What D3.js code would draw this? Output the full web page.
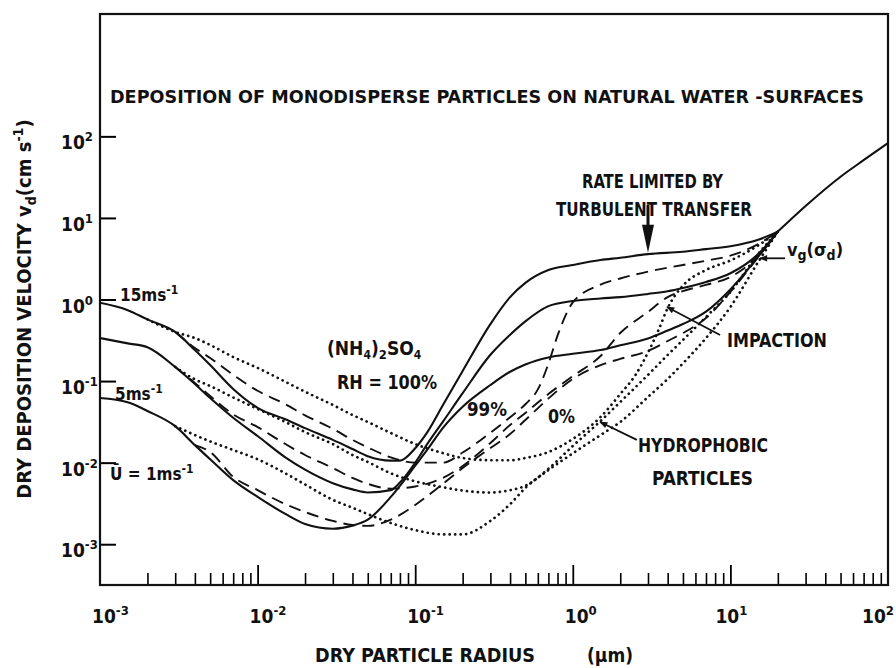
<!DOCTYPE html>
<html>
<head>
<meta charset="utf-8">
<script src="https://cdn.jsdelivr.net/npm/d3@7"></script>
<style>
  body { margin: 0; background: #fff; }
  svg { display: block; }
  text { font-family: "DejaVu Sans Condensed", "DejaVu Sans", sans-serif; font-stretch: condensed; font-weight: bold; fill: #111; }
  .curve { fill: none; stroke: #111; }
</style>
</head>
<body>
<svg width="896" height="668"></svg>
<script>
// dry particle radius (um) -> dry deposition velocity (cm/s)
// wind speeds 15, 5, 1 m/s ; RH 100% solid, 99% dashed, 0% (hydrophobic) dotted

var rh100_15 = [[0.001,0.91],[0.0015,0.74],[0.002,0.57],[0.003,0.40],[0.004,0.24],[0.005,0.157],[0.007,0.08],[0.01,0.047],[0.015,0.034],[0.02,0.0265],[0.03,0.019],[0.04,0.0147],[0.05,0.012],[0.07,0.0106],[0.08,0.0106],[0.1,0.015],[0.12,0.024],[0.15,0.051],[0.2,0.133],[0.3,0.50],[0.4,1.07],[0.5,1.6],[0.7,2.3],[1,2.65],[1.5,3.05],[2,3.25],[3,3.6],[5,3.85],[7,4.15],[10,4.5],[15,5.4],[20,6.8]];
var rh100_5 = [[0.001,0.337],[0.0015,0.29],[0.002,0.26],[0.003,0.149],[0.004,0.092],[0.005,0.062],[0.007,0.0355],[0.01,0.0212],[0.015,0.0116],[0.02,0.0082],[0.03,0.0056],[0.04,0.0047],[0.05,0.0043],[0.07,0.0046],[0.08,0.0057],[0.1,0.01],[0.12,0.0172],[0.15,0.0318],[0.2,0.071],[0.3,0.21],[0.4,0.37],[0.5,0.54],[0.7,0.83],[1,0.96],[1.5,1.03],[2,1.07],[3,1.17],[4,1.26],[5,1.38],[7,1.64],[10,2.1],[15,3.6],[20,6.8]];
var rh100_1 = [[0.001,0.062],[0.0015,0.055],[0.002,0.043],[0.003,0.028],[0.004,0.0164],[0.005,0.011],[0.007,0.0061],[0.01,0.0038],[0.015,0.00235],[0.02,0.00177],[0.03,0.00155],[0.04,0.00169],[0.05,0.002],[0.07,0.0038],[0.08,0.0052],[0.1,0.0092],[0.12,0.0146],[0.15,0.0267],[0.2,0.0485],[0.3,0.0895],[0.4,0.13],[0.5,0.16],[0.7,0.195],[1,0.216],[1.5,0.24],[2,0.275],[3,0.333],[4,0.416],[5,0.5],[7,0.71],[10,1.33],[15,3.33],[20,6.8]];

var rh99_15 = [[0.003,0.40],[0.004,0.255],[0.005,0.192],[0.007,0.119],[0.01,0.076],[0.015,0.052],[0.02,0.038],[0.03,0.026],[0.04,0.019],[0.05,0.0154],[0.07,0.0116],[0.1,0.010],[0.15,0.010],[0.2,0.0133],[0.3,0.0233],[0.4,0.036],[0.5,0.052],[0.6,0.079],[0.7,0.163],[0.8,0.36],[1,0.92],[1.5,1.52],[2,1.81],[3,2.2],[5,2.65],[7,2.99],[10,3.45],[15,4.78],[20,6.8]];
var rh99_5 = [[0.003,0.149],[0.004,0.095],[0.005,0.0658],[0.007,0.039],[0.01,0.0273],[0.015,0.0169],[0.02,0.0124],[0.03,0.0086],[0.04,0.0065],[0.05,0.0055],[0.07,0.0048],[0.1,0.0051],[0.15,0.0065],[0.2,0.0091],[0.3,0.0174],[0.4,0.0289],[0.5,0.0406],[0.7,0.0694],[1,0.115],[1.5,0.203],[2,0.388],[3,0.703],[4,1.07],[5,1.27],[7,1.51],[10,1.89],[15,3.41],[20,6.8]];
var rh99_1 = [[0.004,0.0164],[0.005,0.0135],[0.007,0.0067],[0.01,0.0046],[0.015,0.0031],[0.02,0.00248],[0.03,0.00193],[0.04,0.00172],[0.05,0.00168],[0.07,0.002],[0.1,0.00303],[0.15,0.0055],[0.2,0.0086],[0.3,0.0151],[0.4,0.0224],[0.5,0.0333],[0.7,0.0611],[1,0.106],[1.5,0.157],[2,0.187],[3,0.234],[4,0.31],[5,0.388],[7,0.593],[10,1.24],[15,3.32],[20,6.8]];

var rh0_15 = [[0.002,0.57],[0.003,0.40],[0.004,0.337],[0.005,0.277],[0.007,0.197],[0.01,0.145],[0.015,0.098],[0.02,0.074],[0.03,0.051],[0.04,0.0384],[0.05,0.0315],[0.07,0.0231],[0.1,0.0169],[0.15,0.0131],[0.2,0.0114],[0.3,0.0107],[0.4,0.0107],[0.5,0.0114],[0.7,0.0135],[1,0.0195],[1.5,0.0363],[2,0.0694],[2.5,0.119],[3,0.224],[3.5,0.423],[4,0.787],[5,1.48],[7,2.3],[10,3.01],[15,4.6],[20,6.8]];
var rh0_5 = [[0.003,0.149],[0.004,0.105],[0.005,0.087],[0.007,0.063],[0.01,0.0455],[0.015,0.0315],[0.02,0.0237],[0.03,0.0169],[0.04,0.0124],[0.05,0.0102],[0.07,0.0074],[0.1,0.0059],[0.15,0.005],[0.2,0.00455],[0.3,0.0043],[0.4,0.0046],[0.5,0.0052],[0.7,0.0084],[1,0.016],[1.5,0.0324],[2,0.0553],[3,0.119],[4,0.209],[5,0.319],[7,0.61],[10,1.24],[15,3.61],[20,6.8]];
var rh0_1 = [[0.003,0.028],[0.004,0.0218],[0.005,0.0182],[0.007,0.0143],[0.01,0.011],[0.015,0.0074],[0.02,0.0054],[0.03,0.0035],[0.04,0.0028],[0.05,0.00234],[0.07,0.00182],[0.1,0.00149],[0.15,0.00132],[0.2,0.00132],[0.3,0.00193],[0.4,0.0031],[0.5,0.0049],[0.7,0.0081],[1,0.013],[1.5,0.0218],[2,0.0315],[3,0.0638],[4,0.106],[5,0.165],[7,0.337],[10,0.81],[15,2.88],[20,6.8]];

// gravitational settling vg(sigma_d), where all curves merge
var settling = [[20,6.8],[30,14],[50,32],[70,51],[100,83]];

// axis decades (tick labels are 10^e)
var xExponents = [-3, -2, -1, 0, 1, 2];
var yExponents = [-3, -2, -1, 0, 1, 2];

var svg = d3.select("svg");

var x = d3.scaleLog().domain([1e-3, 1e2]).range([100, 888]);
var y = d3.scaleLog().domain([Math.pow(10, -3.5), Math.pow(10, 3.5)]).range([585, 14]);

// x ticks: short minor, longer at decades, all pointing inwards
var minorX = [];
xExponents.slice(0, -1).forEach(function(e) {
  for (var m = 2; m <= 9; m++) minorX.push(m * Math.pow(10, e));
});

svg.append("g")
  .attr("transform", "translate(0,585)")
  .call(d3.axisBottom(x).tickValues(minorX).tickSize(-12).tickFormat(""))
  .call(function(g) { g.select(".domain").remove(); })
  .selectAll("line").attr("stroke-width", 1.6);

svg.append("g")
  .attr("transform", "translate(0,585)")
  .call(d3.axisBottom(x).tickValues([1e-2, 1e-1, 1, 10]).tickSize(-20).tickFormat(""))
  .call(function(g) { g.select(".domain").remove(); })
  .selectAll("line").attr("stroke-width", 1.8);

svg.append("g")
  .attr("transform", "translate(100,0)")
  .call(d3.axisLeft(y).tickValues(yExponents.map(function(e) { return Math.pow(10, e); })).tickSize(-16).tickFormat(""))
  .call(function(g) { g.select(".domain").remove(); })
  .selectAll("line").attr("stroke-width", 2);

// frame
svg.append("rect")
  .attr("x", 100).attr("y", 14)
  .attr("width", 788).attr("height", 571)
  .attr("fill", "none")
  .attr("stroke", "#111")
  .attr("stroke-width", 2.2);

// text helper: parts = [string, baseline shift, size factor]
function addText(x0, y0, size, parts, len, anchor) {
  var t = svg.append("text")
    .attr("x", x0)
    .attr("y", y0)
    .style("font-size", size + "px");
  if (anchor) t.attr("text-anchor", anchor);
  var prev = 0;
  parts.forEach(function(p) {
    var shift = p[1] || 0;
    var s = t.append("tspan").text(p[0]).attr("dy", shift - prev);
    if (p[2]) s.style("font-size", Math.round(size * p[2]) + "px");
    prev = shift;
  });
  if (len) t.attr("textLength", len).attr("lengthAdjust", "spacingAndGlyphs");
  return t;
}

// tick labels
xExponents.forEach(function(e) {
  var px = Math.min(x(Math.pow(10, e)) - 8 - Math.max(0, e) * 7, 862);
  addText(px, 623, 19, [["10"], [String(e), -8, 0.68]]);
});
yExponents.forEach(function(e) {
  addText(61, y(Math.pow(10, e)) + 13, 19, [["10"], [String(e), -8, 0.68]]);
});

// curves
var line = d3.line()
  .x(function(d) { return x(d[0]); })
  .y(function(d) { return y(d[1]); })
  .curve(d3.curveMonotoneX);

[rh0_15, rh0_5, rh0_1].forEach(function(c) {
  svg.append("path").attr("class", "curve").attr("d", line(c))
    .attr("stroke-width", 2.7)
    .attr("stroke-linecap", "round")
    .attr("stroke-dasharray", "0.1,5.4");
});
[rh99_15, rh99_5, rh99_1].forEach(function(c) {
  svg.append("path").attr("class", "curve").attr("d", line(c))
    .attr("stroke-width", 1.9)
    .attr("stroke-dasharray", "12,7");
});
[rh100_15, rh100_5, rh100_1, settling].forEach(function(c) {
  svg.append("path").attr("class", "curve").attr("d", line(c))
    .attr("stroke-width", 2.1);
});

// arrow heads for the pointers
svg.append("defs").append("marker")
  .attr("id", "head")
  .attr("viewBox", "0 0 10 10")
  .attr("refX", 9).attr("refY", 5)
  .attr("markerWidth", 10).attr("markerHeight", 8)
  .attr("markerUnits", "userSpaceOnUse")
  .attr("orient", "auto")
  .append("path").attr("d", "M0,1L10,5L0,9Z").attr("fill", "#111");

// pointers (from, to) in data units
var pointers = [
  [[22.2, 3.2], [15.4, 3.2]],
  [[8.6, 0.367], [3.96, 0.81]],
  [[2.55, 0.019], [1.49, 0.0315]]
];
pointers.forEach(function(p) {
  svg.append("line")
    .attr("x1", x(p[0][0])).attr("y1", y(p[0][1]))
    .attr("x2", x(p[1][0])).attr("y2", y(p[1][1]))
    .attr("stroke", "#111").attr("stroke-width", 1.8)
    .attr("marker-end", "url(#head)");
});

// big arrow: rate limited by turbulent transfer
var ax = x(3), ay0 = y(14.4), ay1 = y(3.75);
svg.append("line")
  .attr("x1", ax).attr("y1", ay0).attr("x2", ax).attr("y2", ay1 - 26)
  .attr("stroke", "#111").attr("stroke-width", 3);
svg.append("path")
  .attr("d", "M" + (ax - 6) + "," + (ay1 - 28) + "L" + (ax + 6) + "," + (ay1 - 28) + "L" + ax + "," + ay1 + "Z")
  .attr("fill", "#111");

// titles
addText(110, 103, 17, [["DEPOSITION OF MONODISPERSE PARTICLES ON NATURAL WATER -SURFACES"]], 754);
addText(315, 662, 19, [["DRY PARTICLE RADIUS"]], 220);
addText(587, 662, 19, [["(\u03bcm)"]], 46);
addText(31, 309, 20, [["DRY DEPOSITION VELOCITY v"], ["d", 5, 0.7], ["(cm s", 0], ["-1", -8, 0.68], [")", 0]], null, "middle")
  .attr("transform", "rotate(-90,31,309)");

// annotations
addText(582, 188, 20, [["RATE LIMITED BY"]], 141);
addText(556, 216, 20, [["TURBULENT TRANSFER"]], 196);
addText(727, 347, 20, [["IMPACTION"]], 100);
addText(638, 452, 20, [["HYDROPHOBIC"]], 130);
addText(652, 485, 20, [["PARTICLES"]], 101);
addText(327, 355, 19, [["(NH"], ["4", 4, 0.65], [")", 0], ["2", 4, 0.7], ["SO", 0], ["4", 4, 0.65]]);
addText(337, 389, 20, [["RH = 100%"]], 100);
addText(467, 416, 20, [["99%"]], 40);
addText(548, 423, 20, [["0%"]], 27);
addText(787, 256, 18, [["v"], ["g", 4, 0.75], ["(\u03c3", 0], ["d", 4, 0.75], [")", 0]]);
addText(120, 301, 17, [["15ms"], ["-1", -7, 0.7]]);
addText(115, 400, 17, [["5ms"], ["-1", -7, 0.7]]);
addText(110, 480, 17, [["\u016a = 1ms"], ["-1", -7, 0.7]]);
</script>
</body>
</html>
